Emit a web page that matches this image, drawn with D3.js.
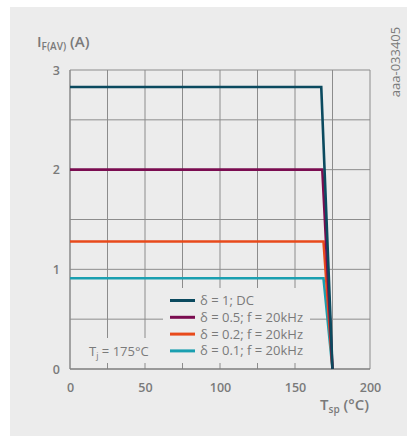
<!DOCTYPE html>
<html><head><meta charset="utf-8">
<script src="https://cdn.jsdelivr.net/npm/d3@7"></script>
<style>body{margin:0;background:#fff}svg{display:block}text{font-family:"Open Sans",sans-serif;fill:#7a7a7a}</style>
</head><body><svg id="c" width="407" height="436"></svg>
<script>
const xTicks = [0, 50, 100, 150, 200];
const yTicks = [0, 1, 2, 3];
const seriesNames = ["δ = 1; DC", "δ = 0.5; f = 20kHz", "δ = 0.2; f = 20kHz", "δ = 0.1; f = 20kHz"];
const seriesColors = ["#0b4a5f", "#7a0c50", "#e84a1b", "#1a9fb0"];
const seriesT = [[0, 167.5, 175], [0, 168.2, 175], [0, 169, 175], [0, 169, 175]];
const seriesI = [[2.83, 2.83, 0], [2.0, 2.0, 0], [1.28, 1.28, 0], [0.91, 0.91, 0]];

const svg = d3.select("#c");
svg.append("rect").attr("x",10).attr("y",7).attr("width",397).attr("height",429).attr("fill","#ececec");
const x = d3.scaleLinear().domain([0,200]).range([70,370]);
const y = d3.scaleLinear().domain([0,3]).range([369,70]);
const g = svg.append("g");
// grid
d3.range(0,201,25).forEach(v=>g.append("line").attr("x1",x(v)).attr("x2",x(v)).attr("y1",y(0)).attr("y2",y(3)).attr("stroke","#8c8c8c").attr("stroke-width",1));
d3.range(0,3.01,0.5).forEach(v=>g.append("line").attr("x1",x(0)).attr("x2",x(200)).attr("y1",y(v)).attr("y2",y(v)).attr("stroke","#8c8c8c").attr("stroke-width",1));
// label boxes covering grid
g.append("rect").attr("x",163).attr("y",288).attr("width",147).attr("height",75).attr("fill","#ececec");
g.append("rect").attr("x",82).attr("y",338).attr("width",72).attr("height",25).attr("fill","#ececec");
// axis line
g.append("line").attr("x1",x(0)).attr("x2",x(200)).attr("y1",y(0)).attr("y2",y(0)).attr("stroke","#777").attr("stroke-width",1.2);
g.append("line").attr("x1",x(0)).attr("x2",x(0)).attr("y1",y(0)).attr("y2",y(3)).attr("stroke","#888").attr("stroke-width",1);

// axes labels via d3 axes
const xa = svg.append("g").attr("transform",`translate(0,${y(0)})`).call(d3.axisBottom(x).tickValues(xTicks).tickFormat(d3.format("d")).tickSize(0).tickPadding(14));
const ya = svg.append("g").attr("transform",`translate(${x(0)},0)`).call(d3.axisLeft(y).tickValues(yTicks).tickFormat(d3.format("d")).tickSize(0).tickPadding(10));
[xa,ya].forEach(a=>{a.select(".domain").remove();a.selectAll("text").attr("font-size",12.5).attr("font-weight",600).attr("fill","#7a7a7a").attr("font-family","Open Sans");});

// lines
const line = d3.line().x(d=>x(d[0])).y(d=>y(d[1]));
for (let i = seriesNames.length-1; i>=0; i--) {
  const pts = seriesT[i].map((t,j)=>[t, seriesI[i][j]]);
  svg.append("path").attr("d",line(pts)).attr("fill","none").attr("stroke",seriesColors[i]).attr("stroke-width",2.6).attr("stroke-linejoin","miter");
}

// legend
seriesNames.forEach((n,i)=>{
  const yy = 300.5 + i*16.8;
  svg.append("line").attr("x1",170).attr("x2",195).attr("y1",yy).attr("y2",yy).attr("stroke",seriesColors[i]).attr("stroke-width",3);
  svg.append("text").attr("x",200).attr("y",yy+4.5).attr("font-size",13).text(n);
});
// Tj label
const tj = svg.append("text").attr("x",89).attr("y",356).attr("font-size",13);
tj.append("tspan").text("T");
tj.append("tspan").attr("font-size",9).attr("dy",3).text("j");
tj.append("tspan").attr("dy",-3).text(" = 175°C");

// y title
const yt = svg.append("text").attr("x",37).attr("y",47).attr("font-size",15).attr("font-weight",600);
yt.append("tspan").text("I");
yt.append("tspan").attr("font-size",10).attr("dy",3).text("F(AV)");
yt.append("tspan").attr("dy",-3).text(" (A)");
// x title
const xt = svg.append("text").attr("x",369).attr("y",410).attr("text-anchor","end").attr("font-size",15).attr("font-weight",600);
xt.append("tspan").text("T");
xt.append("tspan").attr("font-size",10).attr("dy",3).text("sp");
xt.append("tspan").attr("dy",-3).text(" (°C)");
// code
svg.append("text").attr("transform","translate(400,62) rotate(-90)").attr("text-anchor","middle").attr("font-size",13).attr("fill","#8a8a8a").text("aaa-033405");
</script></body></html>
